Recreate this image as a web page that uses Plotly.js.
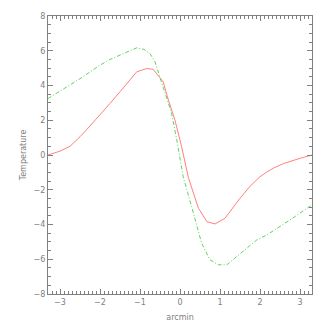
<!DOCTYPE html>
<html>
<head>
<meta charset="utf-8">
<script src="https://cdn.plot.ly/plotly-3.0.1.min.js"></script>
<style>
  html, body { margin: 0; padding: 0; background: #fff; }
  #plot { width: 327px; height: 327px; }
</style>
</head>
<body>
<div id="plot"></div>
<script>
// Datos (arcmin vs temperatura)
const xRojo = [-3.3, -3.0, -2.75, -2.5, -2.25, -2.0, -1.75, -1.5, -1.25, -1.08, -0.83, -0.67, -0.42, -0.29, -0.125, 0.04, 0.21, 0.46, 0.67, 0.875, 1.125, 1.5, 1.75, 2.0, 2.17, 2.33, 2.58, 2.79, 3.0, 3.3];
const tRojo = [0.0, 0.22, 0.5, 1.05, 1.67, 2.3, 2.97, 3.64, 4.32, 4.79, 4.98, 4.93, 4.21, 3.16, 2.0, 0.48, -1.3, -3.06, -3.83, -3.97, -3.64, -2.49, -1.8, -1.25, -0.98, -0.76, -0.5, -0.34, -0.19, 0.0];

const xVerde = [-3.3, -3.0, -2.67, -2.5, -2.25, -2.0, -1.75, -1.42, -1.25, -1.08, -0.9, -0.75, -0.625, -0.42, -0.21, -0.08, 0.08, 0.29, 0.54, 0.75, 0.96, 1.17, 1.5, 1.92, 2.17, 2.75, 3.3];
const tVerde = [3.25, 3.67, 4.12, 4.39, 4.78, 5.17, 5.5, 5.84, 6.0, 6.17, 6.08, 5.84, 5.36, 3.93, 2.4, 0.86, -1.25, -2.97, -5.07, -6.03, -6.32, -6.32, -5.7, -4.89, -4.6, -3.74, -2.87];

const gris = '#808080';
const fuente = { family: 'DejaVu Sans', size: 8, color: gris };

const data = [
  {
    x: xRojo, y: tRojo,
    type: 'scatter', mode: 'lines',
    line: { color: '#ff8080', width: 1 },
    hoverinfo: 'skip'
  },
  {
    x: xVerde, y: tVerde,
    type: 'scatter', mode: 'lines',
    line: { color: '#5fd35f', width: 1, dash: '4px,2px,1px,2px' },
    hoverinfo: 'skip'
  }
];

const layout = {
  width: 327,
  height: 327,
  margin: { l: 48, r: 15, t: 16, b: 33 },
  paper_bgcolor: '#fff',
  plot_bgcolor: '#fff',
  showlegend: false,
  font: fuente,
  xaxis: {
    range: [-3.3, 3.3],
    dtick: 1,
    tick0: 0,
    ticks: 'inside',
    ticklen: 5,
    tickcolor: gris,
    showline: true,
    linecolor: gris,
    linewidth: 1,
    mirror: 'ticks',
    showgrid: false,
    zeroline: false,
    tickfont: fuente,
    minor: { dtick: 0.1, tick0: 0, ticks: 'inside', ticklen: 3, tickcolor: gris, showgrid: false },
    title: { text: 'arcmin', font: fuente, standoff: 8 }
  },
  yaxis: {
    range: [-8, 8],
    dtick: 2,
    tick0: 0,
    ticks: 'inside',
    ticklen: 5,
    tickcolor: gris,
    showline: true,
    linecolor: gris,
    linewidth: 1,
    mirror: 'ticks',
    showgrid: false,
    zeroline: false,
    tickfont: fuente,
    minor: { dtick: 0.5, tick0: 0, ticks: 'inside', ticklen: 3, tickcolor: gris, showgrid: false },
    title: { text: 'Temperature', font: fuente, standoff: 5 }
  }
};

Plotly.newPlot('plot', data, layout, { staticPlot: true, displayModeBar: false });
</script>
</body>
</html>
